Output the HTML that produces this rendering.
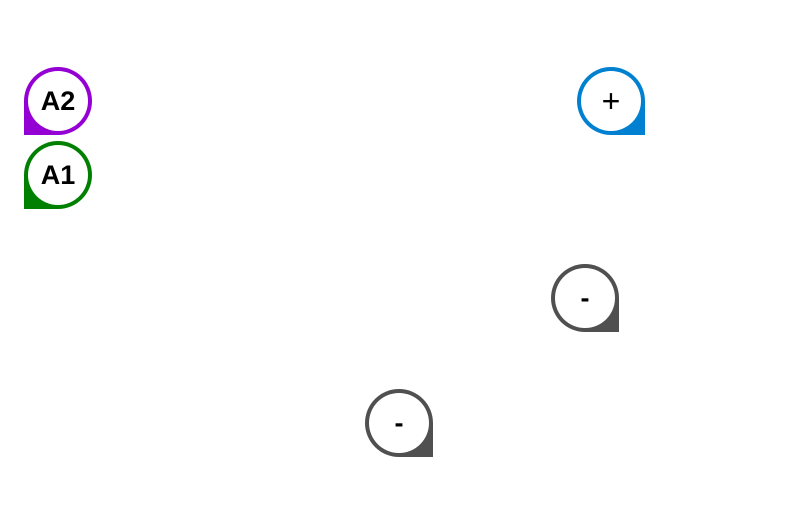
<!DOCTYPE html>
<html><head><meta charset="utf-8"><style>
html,body{margin:0;padding:0;background:#fff;}
body{width:800px;height:518px;position:relative;overflow:hidden;font-family:"Liberation Sans",sans-serif;}
.m{position:absolute;width:68px;height:68px;border-radius:50%;}
.m .q{position:absolute;width:34px;height:34px;}
.m .in{position:absolute;left:4px;top:4px;width:60px;height:60px;border-radius:50%;background:#fff;display:flex;align-items:center;justify-content:center;color:#000;}
.bl .q{left:0;bottom:0;}
.br .q{right:0;bottom:0;}
</style></head><body>
<div class="m bl" style="left:24px;top:67px;background:#9400d3;"><div class="q" style="background:#9400d3"></div><div class="in" style="font-weight:bold;font-size:27px;">A2</div></div>
<div class="m bl" style="left:24px;top:141px;background:#008000;"><div class="q" style="background:#008000"></div><div class="in" style="font-weight:bold;font-size:27px;">A1</div></div>
<div class="m br" style="left:577px;top:67px;background:#0080d0;"><div class="q" style="background:#0080d0"></div><div class="in" style="font-size:32px;">+</div></div>
<div class="m br" style="left:551px;top:264px;background:#505050;"><div class="q" style="background:#505050"></div><div class="in" style="font-weight:bold;font-size:27px;">-</div></div>
<div class="m br" style="left:365px;top:389px;background:#505050;"><div class="q" style="background:#505050"></div><div class="in" style="font-weight:bold;font-size:27px;">-</div></div>
</body></html>
